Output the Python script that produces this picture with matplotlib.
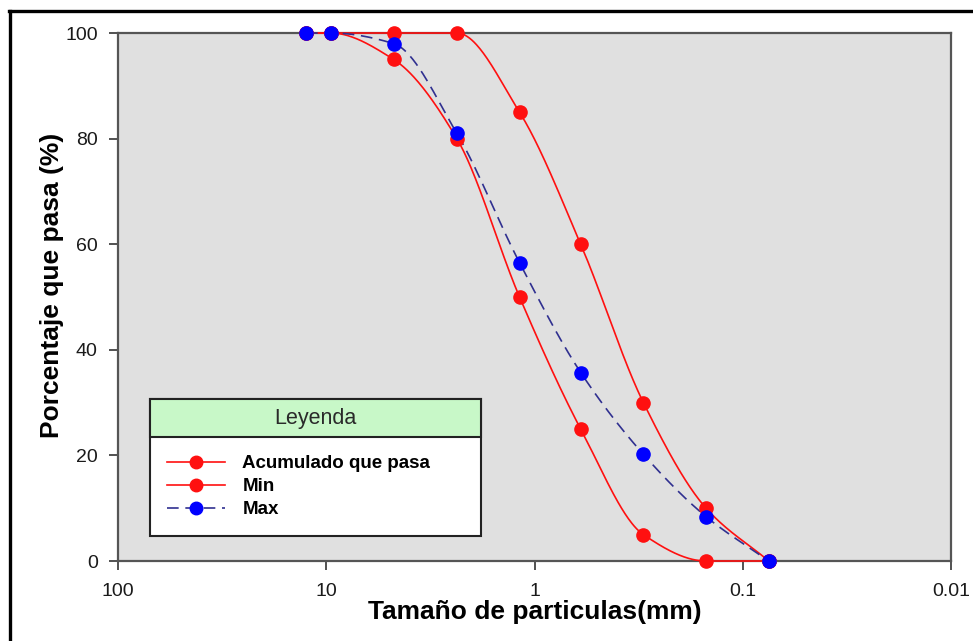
import numpy as np
import matplotlib
matplotlib.use("Agg")
import matplotlib.pyplot as plt
from matplotlib.patches import Rectangle
from matplotlib.lines import Line2D
from matplotlib.ticker import FixedLocator, NullLocator, FixedFormatter

# ---- data ----
sizes_mm = [12.5, 9.5, 4.75, 2.36, 1.18, 0.6, 0.3, 0.15, 0.075]
acumulado = [100, 100, 95, 80, 50, 25, 5, 0, 0]
minimo = [100, 100, 100, 100, 85, 60, 30, 10, 0]
maximo = [100, 100, 98, 81, 56.5, 35.7, 20.2, 8.4, 0]
series_labels = ["Acumulado que pasa", "Min", "Max"]
x_ticks = [100, 10, 1, 0.1, 0.01]
x_tick_labels = ["100", "10", "1", "0.1", "0.01"]
y_ticks = [0, 20, 40, 60, 80, 100]

W, H = 973, 641
FONT = "Liberation Sans"
plt.rcParams["font.family"] = [FONT, "DejaVu Sans"]


def pchip(x, y, xn):
    """Shape-preserving cubic curve through the data points (rendering only)."""
    x = np.asarray(x, float)
    y = np.asarray(y, float)
    h = np.diff(x)
    delta = np.diff(y) / h
    n = len(x)
    d = np.zeros(n)
    for k in range(1, n - 1):
        if delta[k - 1] * delta[k] > 0:
            w1 = 2 * h[k] + h[k - 1]
            w2 = h[k] + 2 * h[k - 1]
            d[k] = (w1 + w2) / (w1 / delta[k - 1] + w2 / delta[k])
    d[0] = delta[0]
    d[-1] = delta[-1]
    idx = np.clip(np.searchsorted(x, xn) - 1, 0, n - 2)
    t = (xn - x[idx]) / h[idx]
    h00 = 2 * t**3 - 3 * t**2 + 1
    h10 = t**3 - 2 * t**2 + t
    h01 = -2 * t**3 + 3 * t**2
    h11 = t**3 - t**2
    return (h00 * y[idx] + h10 * h[idx] * d[idx]
            + h01 * y[idx + 1] + h11 * h[idx] * d[idx + 1])


def smooth(sizes, vals):
    lx = -np.log10(np.asarray(sizes, float))
    fine = np.linspace(lx[0], lx[-1], 400)
    return 10 ** (-fine), pchip(lx, vals, fine)


fig = plt.figure(figsize=(W / 100, H / 100), dpi=100)
fig.patch.set_facecolor("white")

left, right, top, bottom = 118, 951, 33, 561
ax = fig.add_axes([left / W, 1 - bottom / H, (right - left) / W, (bottom - top) / H])
ax.set_facecolor("#E0E0E0")
ax.set_xscale("log")
ax.set_xlim(100, 0.01)
ax.set_ylim(0, 100)

red = "#FF1010"
styles = [
    dict(color=red, lw=1.2, ls="-", mfc=red, mec=red),
    dict(color=red, lw=1.2, ls="-", mfc=red, mec=red),
    dict(color="#303090", lw=1.2, ls=(0, (7, 4)), mfc="#0000FF", mec="#0000FF"),
]
handles = []
for vals, lab, st in zip([acumulado, minimo, maximo], series_labels, styles):
    xs, ys = smooth(sizes_mm, vals)
    ax.plot(xs, ys, color=st["color"], lw=st["lw"], ls=st["ls"], zorder=3, clip_on=False)
    ax.plot(sizes_mm, vals, ls="none", marker="o", ms=9.5, mfc=st["mfc"], mec=st["mec"],
            zorder=4, clip_on=False)
    handles.append(Line2D([], [], color=st["color"], lw=st["lw"], ls=st["ls"],
                          marker="o", ms=9, mfc=st["mfc"], mec=st["mec"], label=lab))

for s in ax.spines.values():
    s.set_color("#555555")
    s.set_linewidth(1.6)
    s.set_zorder(2.5)

ax.xaxis.set_major_locator(FixedLocator(x_ticks))
ax.xaxis.set_major_formatter(FixedFormatter(x_tick_labels))
ax.xaxis.set_minor_locator(NullLocator())
ax.set_yticks(y_ticks)
ax.tick_params(axis="both", which="major", direction="out", length=6.5, width=1.2,
               color="#333333", labelsize=14, labelcolor="#1a1a1a")
ax.tick_params(axis="y", pad=8)
ax.tick_params(axis="x", pad=9)

ax.set_xlabel("Tamaño de particulas(mm)", fontsize=19, fontweight="bold")
ax.xaxis.label.set(va="center")
ax.xaxis.set_label_coords(0.5, (bottom - 612) / (bottom - top))
ax.set_ylabel("Porcentaje que pasa (%)", fontsize=19, fontweight="bold")
ax.yaxis.label.set(va="center", ha="center", rotation_mode="anchor")
ax.yaxis.set_label_coords((52 - left) / (right - left), (bottom - 285) / (bottom - top))

# ---- overlay for the legend box and the outer frame (pixel coordinates) ----
ov = fig.add_axes([0, 0, 1, 1], facecolor="none")
ov.set_xlim(0, W)
ov.set_ylim(H, 0)
ov.axis("off")
ov.set_zorder(5)

lx0, lx1, ly0, ly1, lyh = 150, 481, 399, 536, 436.5
ov.add_patch(Rectangle((lx0, ly0), lx1 - lx0, ly1 - ly0, facecolor="white",
                       edgecolor="#222222", lw=1.5, zorder=1))
ov.add_patch(Rectangle((lx0, ly0), lx1 - lx0, lyh - ly0, facecolor="#C8F8C8",
                       edgecolor="#222222", lw=1.5, zorder=2))
ov.text((lx0 + lx1) / 2, (ly0 + lyh) / 2 + 1, "Leyenda", ha="center", va="center",
        fontsize=15.5, color="#2a2a2a", zorder=3)

leg = ov.legend(handles=handles, loc="upper left",
                bbox_to_anchor=(166.5 / W, 1 - 455 / H), bbox_transform=fig.transFigure,
                frameon=False, borderpad=0, borderaxespad=0, handlelength=3.1,
                handletextpad=0.95, labelspacing=0.32,
                prop={"family": FONT, "weight": "bold", "size": 13.5})
leg.set_zorder(4)

# outer black frame (top and left edges visible)
ov.plot([9, W + 5], [11, 11], color="black", lw=2.4, solid_capstyle="projecting", clip_on=False)
ov.plot([9.5, 9.5], [11, H + 5], color="black", lw=2.4, solid_capstyle="projecting", clip_on=False)

fig.savefig("out.png", dpi=100)
